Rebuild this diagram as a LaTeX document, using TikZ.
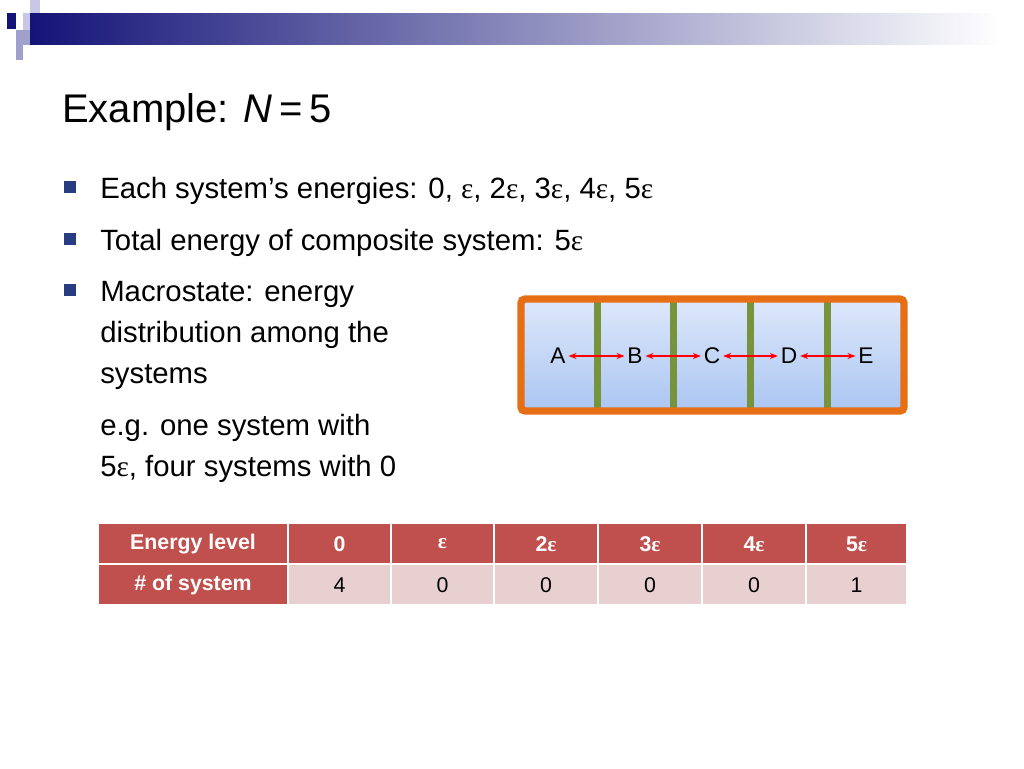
\documentclass[tikz,border=0pt]{standalone}
\usepackage{fontspec}
\setmainfont{Liberation Sans}
\newfontfamily\epsfont{Liberation Serif}
\usetikzlibrary{positioning,calc,arrows.meta}
\definecolor{navy}{RGB}{20,20,120}
\definecolor{lav}{RGB}{200,200,230}
\definecolor{lav2}{RGB}{160,160,205}
\definecolor{bullet}{RGB}{40,60,130}
\definecolor{cellred}{RGB}{192,80,77}
\definecolor{cellpink}{RGB}{233,208,208}
\definecolor{boxorange}{RGB}{230,110,20}
\definecolor{wallgreen}{RGB}{119,147,60}
\definecolor{bluetop}{RGB}{222,232,250}
\definecolor{bluebot}{RGB}{170,198,242}
\newcommand{\eps}{{\epsfont ε}}
\tikzset{
  bodytext/.style={anchor=base west, font=\fontsize{22}{26}\selectfont, inner sep=0pt},
  sq/.style={fill=bullet, minimum size=9pt, inner sep=0pt},
  headcell/.style={fill=cellred, draw=white, line width=1.5pt, text=white, font=\bfseries\fontsize{16}{18}\selectfont},
  datacell/.style={fill=cellpink, draw=white, line width=1.5pt, font=\fontsize{16}{18}\selectfont},
  letter/.style={font=\fontsize{17}{20}\selectfont, inner sep=2pt},
  swap/.style={red, line width=1.5pt, {Stealth[length=6pt]}-{Stealth[length=6pt]}}
}
\begin{document}
\begin{tikzpicture}[x=0.75pt, y=-0.75pt]
    \useasboundingbox (0,0) rectangle (1024,768);

    % corner squares and bar
    \fill[lav] (30,0) rectangle (40,13);
    \fill[lav] (23,13) rectangle (33,30);
    \fill[lav2] (16,30) rectangle (30,45);
    \fill[lav2] (16,45) rectangle (23,60);
    \fill[navy] (7,13) rectangle (16,29);
    \shade[left color=navy, right color=white] (30,13) rectangle (1000,44);

    % title
    \node[anchor=base west, inner sep=0pt, font=\fontsize{30}{36}\selectfont] (title) at (62,122) {Example: \textit{N}\,=\,5};

    % bullets
    \node[sq] (b1) at (70,187) {};
    \node[sq] (b2) at (70,239) {};
    \node[sq] (b3) at (70,290) {};
    \node[bodytext] (t1) at (100,198) {Each system’s energies: 0, \eps, 2\eps, 3\eps, 4\eps, 5\eps};
    \node[bodytext] (t2) at (100,250) {Total energy of composite system: 5\eps};
    \node[bodytext] (t3) at (100,301) {Macrostate: energy};
    \node[bodytext] (t4) at (100,342) {distribution among the};
    \node[bodytext] (t5) at (100,383) {systems};
    \node[bodytext] (t6) at (100,435) {e.g. one system with};
    \node[bodytext] (t7) at (100,476) {5\eps, four systems with 0};

    % composite box
    \shade[top color=bluetop, bottom color=bluebot] (521,299) rectangle (904,411);
    \foreach \x in {597,673,750,827}
        \fill[wallgreen] (\x-3.5,299) rectangle (\x+3.5,411);
    \draw[boxorange, line width=5.5pt, rounded corners=3pt] (521,299) rectangle (904,411);
    \node[letter] (A) at (558,356) {A};
    \node[letter] (B) at (635,356) {B};
    \node[letter] (C) at (712,356) {C};
    \node[letter] (D) at (789,356) {D};
    \node[letter] (E) at (866,356) {E};
    \draw[swap] (A) -- (B);
    \draw[swap] (B) -- (C);
    \draw[swap] (C) -- (D);
    \draw[swap] (D) -- (E);

    % table
    \path[headcell] (98,523) rectangle (288,564);
    \node[text=white, font=\bfseries\fontsize{16}{18}\selectfont] (h0) at (193,544) {Energy level};
    \path[headcell] (98,564) rectangle (288,605);
    \node[text=white, font=\bfseries\fontsize{16}{18}\selectfont] (r0) at (193,585) {\# of system};
    \foreach \xa/\xb/\lab/\val [count=\i] in {288/391/0/4, 391/494/\eps/0, 494/598/2\eps/0, 598/702/3\eps/0, 702/806/4\eps/0, 806/907/5\eps/1} {
        \path[headcell] (\xa,523) rectangle (\xb,564);
        \node[text=white, font=\bfseries\fontsize{16}{18}\selectfont] (h\i) at ({(\xa+\xb)/2},544) {\lab};
        \path[datacell] (\xa,564) rectangle (\xb,605);
        \node[font=\fontsize{16}{18}\selectfont] (r\i) at ({(\xa+\xb)/2},585) {\val};
    }
\end{tikzpicture}
\end{document}
